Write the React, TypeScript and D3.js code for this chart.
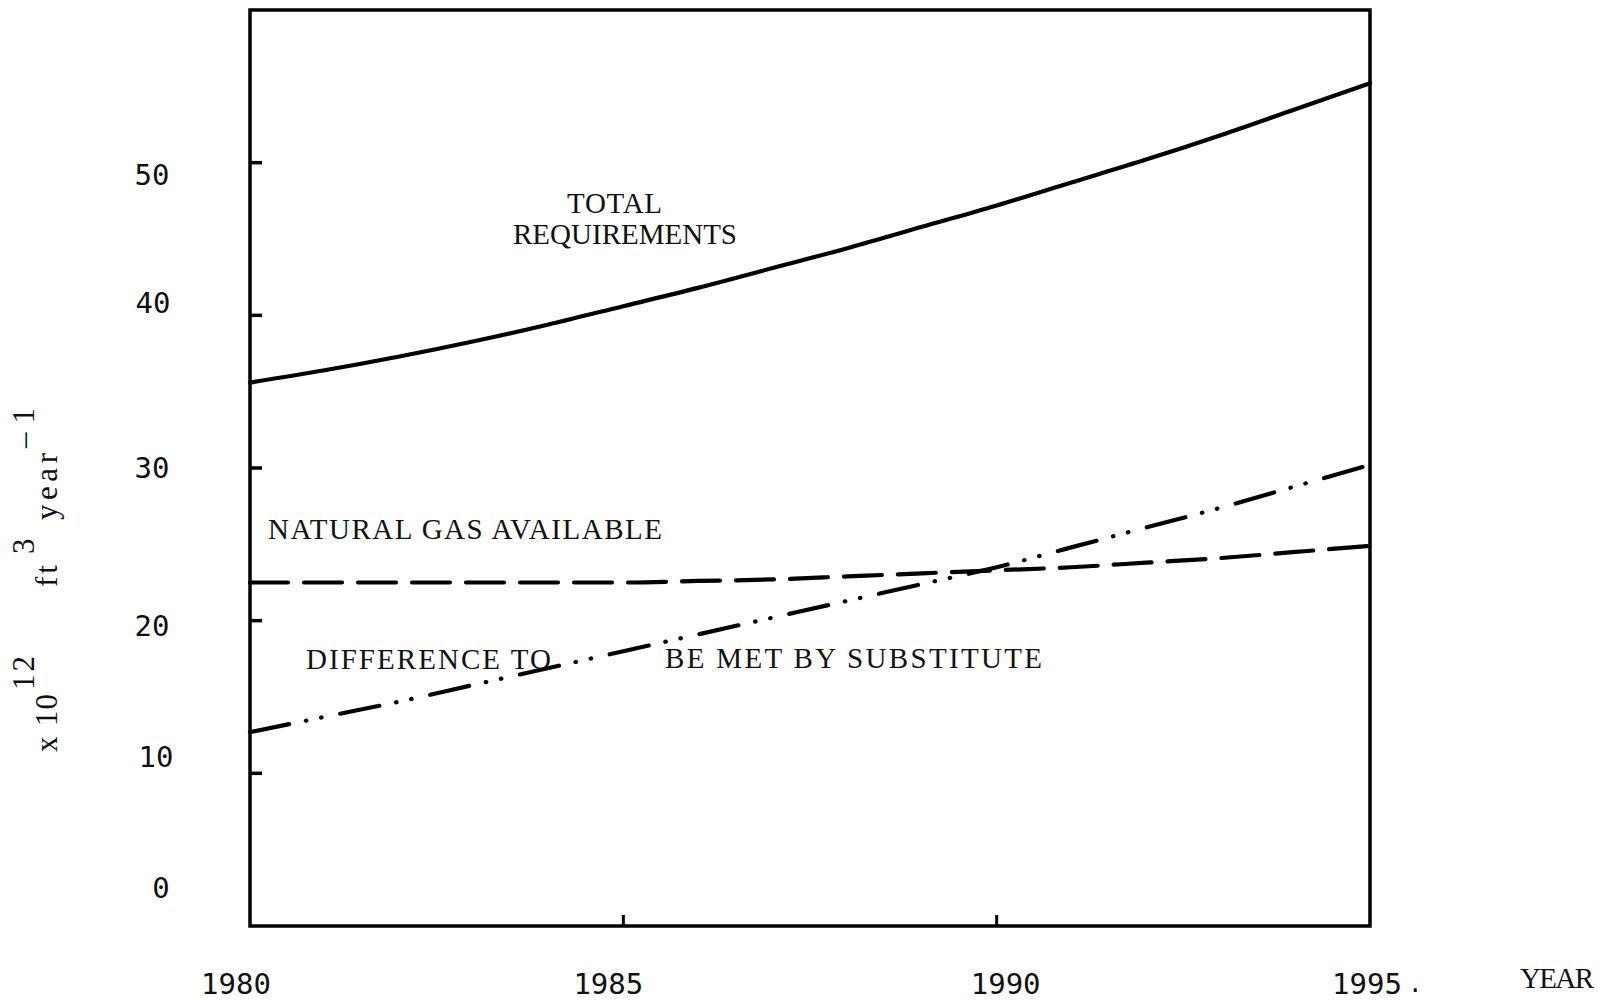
import React from "react";
import * as d3 from "d3";

const years = [1980, 1981, 1982, 1983, 1984, 1985, 1986, 1987, 1988, 1989, 1990, 1991, 1992, 1993, 1994, 1995];
const totalRequirements = [35.6, 36.4, 37.3, 38.3, 39.4, 40.6, 41.8, 43.1, 44.4, 45.8, 47.2, 48.7, 50.2, 51.8, 53.5, 55.2];
const naturalGasAvailable = [22.5, 22.5, 22.5, 22.5, 22.5, 22.5, 22.6, 22.7, 22.9, 23.1, 23.3, 23.5, 23.8, 24.1, 24.5, 24.9];
const differenceSubstitute = [12.7, 13.7, 14.7, 15.8, 16.9, 18.0, 19.1, 20.2, 21.3, 22.4, 23.5, 24.8, 26.1, 27.4, 28.8, 30.2];

const yTickValues = [10, 20, 30, 40, 50];
const yLabelValues = [0, 10, 20, 30, 40, 50];
const yLabelNudge = [-38, -16, 5, 0, -12, 12];
const yLabelXNudge = [9, 4, 0, 0, 1, 0];
const xTickValues = [1985, 1990];
const xLabelValues = [1980, 1985, 1990, 1995];
const xLabelNudge = [-14, -15, 9, -3];

const W = 1602;
const H = 1000;
const SERIF = "'Liberation Serif', 'DejaVu Serif', serif";
const NUM = "'DejaVu Sans Mono', monospace";

export default function App() {
  const x = d3.scaleLinear().domain([1980, 1995]).range([250, 1370]);
  const y = d3.scaleLinear().domain([0, 60]).range([926, 10]);

  const line = (vals: number[]) =>
    d3
      .line<number>()
      .x((_, i) => x(years[i]))
      .y((v) => y(v))
      .curve(d3.curveMonotoneX)(vals) || "";

  const ann = (txt: string, px: number, py: number, len: number) => (
    <text
      x={px}
      y={py}
      textLength={len}
      lengthAdjust="spacing"
      fontFamily={SERIF}
      fontSize={29}
      fill="#111"
    >
      {txt}
    </text>
  );

  return (
    <svg
      width={W}
      height={H}
      style={{ position: "absolute", left: 0, top: 0, background: "#fff" }}
    >
      <rect x={0} y={0} width={W} height={H} fill="#fff" />
      {/* frame */}
      <rect
        x={x(1980)}
        y={y(60)}
        width={x(1995) - x(1980)}
        height={y(0) - y(60)}
        fill="none"
        stroke="#000"
        strokeWidth={3.5}
      />
      {/* y ticks */}
      {yTickValues.map((v) => (
        <line key={"yt" + v} x1={x(1980)} x2={x(1980) + 12} y1={y(v)} y2={y(v)} stroke="#000" strokeWidth={3.5} />
      ))}
      {/* x ticks */}
      {xTickValues.map((v) => (
        <line key={"xt" + v} x1={x(v)} x2={x(v)} y1={y(0)} y2={y(0) - 11} stroke="#000" strokeWidth={3} />
      ))}
      {/* y labels */}
      {yLabelValues.map((v, i) => (
        <text
          key={"yl" + v}
          x={152 + yLabelXNudge[i]}
          y={y(v) + yLabelNudge[i]}
          fontFamily={NUM}
          fontSize={29}
          textAnchor="middle"
          dominantBaseline="central"
          fill="#111"
        >
          {v}
        </text>
      ))}
      {/* x labels */}
      {xLabelValues.map((v, i) => (
        <text
          key={"xl" + v}
          x={x(v) + xLabelNudge[i]}
          y={984}
          fontFamily={NUM}
          fontSize={29}
          textAnchor="middle"
          dominantBaseline="central"
          fill="#111"
        >
          {v}
        </text>
      ))}
      <text x={1408} y={992} fontFamily={NUM} fontSize={24} fill="#111">.</text>
      {ann("YEAR", 1520, 988, 74)}

      {/* y axis title (rotated, reading bottom to top) */}
      <g transform="translate(57,752) rotate(-90)" fontFamily={SERIF} fontSize={31} fill="#111">
        <text x={0} y={0} textLength={58} lengthAdjust="spacing">x 10</text>
        <text x={62} y={-23} textLength={34} lengthAdjust="spacing">12</text>
        <text x={165} y={0} letterSpacing={3}>ft</text>
        <text x={198} y={-23}>3</text>
        <text x={232} y={0} textLength={67} lengthAdjust="spacing">year</text>
        <text x={304} y={-23} textLength={40} lengthAdjust="spacing">–1</text>
      </g>

      {/* series */}
      <path d={line(totalRequirements)} fill="none" stroke="#000" strokeWidth={4.2} strokeLinecap="round" />
      <path
        d={line(naturalGasAvailable)}
        fill="none"
        stroke="#000"
        strokeWidth={4.2}
        strokeDasharray="38 16"
        strokeLinecap="round"
      />
      <path
        d={line(differenceSubstitute)}
        fill="none"
        stroke="#000"
        strokeWidth={4.2}
        strokeDasharray="40 17 0.5 15 0.5 19"
        strokeLinecap="round"
      />

      {/* annotations */}
      {ann("TOTAL", 567, 213, 95)}
      {ann("REQUIREMENTS", 513, 244, 224)}
      {ann("NATURAL GAS AVAILABLE", 268, 539, 394)}
      {ann("DIFFERENCE TO", 306, 669, 245)}
      {ann("BE MET BY SUBSTITUTE", 665, 668, 377)}
    </svg>
  );
}
